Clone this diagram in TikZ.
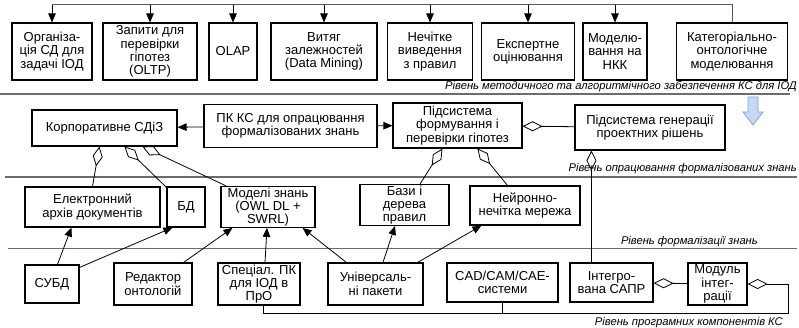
\documentclass[tikz,border=0pt]{standalone}
\usepackage{fontspec}
\setmainfont{Liberation Sans}
\usetikzlibrary{arrows.meta,calc}
\definecolor{hintfill}{HTML}{C6D9F1}
\definecolor{hintline}{HTML}{7FA7D9}
\newcommand{\boxfont}{\fontsize{13}{13.3}\selectfont}
\newcommand{\lvlfont}{\fontsize{11.2}{12}\selectfont\itshape}

\begin{document}
\begin{tikzpicture}[
    x=1pt, y=-1pt,
    box/.style={draw, line width=1.1pt, align=center, inner sep=1pt,
                font=\boxfont},
    arrow/.style={-{Triangle[length=9pt,width=7.5pt]}, line width=0.8pt},
    agg/.style={-{Diamond[open,length=20pt,width=10pt]}, line width=0.8pt},
    level/.style={gray!85!black, line width=1.4pt},
    lvl/.style={font=\lvlfont, inner sep=0pt},
  ]
  \useasboundingbox (0,0) rectangle (799,328);

  % Row 1: methods
  \node[box, minimum width=80pt, minimum height=57pt] at (52,51.5) (org)
    {Організа-\\ція СД для\\задачі ІОД};
  \node[box, minimum width=94pt, minimum height=57pt] at (150,51.5) (oltp)
    {Запити для\\перевірки\\гіпотез\\(OLTP)};
  \node[box, minimum width=48pt, minimum height=57pt] at (233,51.5) (olap)
    {OLAP};
  \node[box, minimum width=106pt, minimum height=57pt] at (324,51.5) (mining)
    {Витяг\\залежностей\\(Data Mining)};
  \node[box, minimum width=85pt, minimum height=57pt] at (430,51.5) (fuzzy)
    {Нечітке\\виведення\\з правил};
  \node[box, minimum width=93pt, minimum height=57pt] at (528,51.5) (expert)
    {Експертне\\оцінювання};
  \node[box, minimum width=64pt, minimum height=57pt] at (615,51.5) (nkk)
    {Моделю-\\вання на\\НКК};
  \node[box, minimum width=111pt, minimum height=57pt] at (732,51.5) (categ)
    {Категоріально-\\онтологічне\\моделювання};
  \coordinate (top) at (0,5);

  % Row 2: processing
  \node[box, minimum width=145pt, minimum height=36pt] at (104.5,128) (corp)
    {Корпоративне СДіЗ};
  \node[box, minimum width=173pt, minimum height=43pt] at (290.5,126) (pkks)
    {ПК КС для опрацювання\\формалізованих знань};
  \node[box, minimum width=129pt, minimum height=45pt] at (457.5,125.5) (hypo)
    {Підсистема\\формування і\\перевірки гіпотез};
  \node[box, minimum width=150pt, minimum height=45pt] at (650,127.5) (gener)
    {Підсистема генерації\\проектних рішень};

  % Row 3: formalization
  \node[box, minimum width=135pt, minimum height=40pt] at (92.5,207) (archive)
    {Електронний\\архів документів};
  \node[box, minimum width=38pt, minimum height=40pt] at (186,207) (db)
    {БД};
  \node[box, minimum width=94pt, minimum height=40pt] at (268,207) (owl)
    {Моделі знань\\(OWL DL +\\SWRL)};
  \node[box, minimum width=89pt, minimum height=39pt] at (404.5,205) (rules)
    {Бази і\\дерева\\правил};
  \node[box, minimum width=110pt, minimum height=39pt] at (525,205.5) (neuro)
    {Нейронно-\\нечітка мережа};

  % Row 4: software components
  \node[box, minimum width=54pt, minimum height=38pt] at (52,284) (dbms)
    {СУБД};
  \node[box, minimum width=78pt, minimum height=42pt] at (153,284) (editor)
    {Редактор\\онтологій};
  \node[box, minimum width=82pt, minimum height=42pt] at (259,284) (spec)
    {Спеціал. ПК\\для ІОД в\\ПрО};
  \node[box, minimum width=95pt, minimum height=42pt] at (375.5,284) (univ)
    {Універсаль-\\ні пакети};
  \node[box, minimum width=111pt, minimum height=39pt] at (502.5,282.5) (cad)
    {CAD/CAM/CAE-\\системи};
  \node[box, minimum width=83pt, minimum height=39pt] at (611.5,282.5) (cadsys)
    {Інтегро-\\вана САПР};
  \node[box, minimum width=59pt, minimum height=42pt] at (717.5,284) (integ)
    {Модуль\\інтег-\\рації};
  \coordinate (bus) at (788,313);

  % Level lines
  \draw[level] (0,94) -- (790,94);
  \draw[level] (5,177) -- (797,177);
  \draw[level, line width=1pt] (8,249) -- (797,249);
  \node[lvl, anchor=base east] at (797,90) (lvlA)
    {Рівень методичного та алгоритмічного забезпечення КС для ІОД};
  \node[lvl, anchor=base east] at (797,172) (lvlB)
    {Рівень опрацювання формалізованих знань};
  \node[lvl, anchor=base east] at (758,244) (lvlC)
    {Рівень формалізації знань};
  \node[lvl, anchor=base east] at (783,325.5) (lvlD)
    {Рівень програмних компонентів КС};

  % Hint arrow
  \draw[hintline, fill=hintfill, line width=0.8pt]
    (748,97) -- (758,97) -- (758,112) -- (763,112) -- (753,125)
    -- (743,112) -- (748,112) -- cycle;

  % Top distribution line
  \draw[gray!70!black, line width=1pt] (org.north |- top) -- (categ.north |- top)
    -- (categ.north);
  \foreach \n in {org, oltp, olap, mining, fuzzy, expert, nkk}
    \draw[arrow] (\n.north |- top) -- (\n.north);

  % Row 2 links
  \draw[arrow] (pkks) -- (corp);
  \draw[arrow] (pkks) -- (hypo);
  \draw[agg] (gener) -- (hypo);
  \draw[agg] (archive.north) -- ($(corp.south west)+(68,0)$);
  \draw[agg] ($(db.north west)+(0,1)$) -- ($(corp.south west)+(93,0)$);
  \draw[agg] ($(owl.north west)+(6,0)$) -- ($(corp.south west)+(111,0)$);
  \draw[agg] ($(rules.north)+(15.5,0)$) -- ($(hypo.south west)+(50,0)$);
  \draw[agg] ($(neuro.north west)+(38,0)$) -- ($(hypo.south west)+(85,0)$);
  \draw[agg] ($(cadsys.north west)+(22,0)$) -- ($(gener.south west)+(17,0)$);

  % Row 4 links
  \draw[arrow] ($(dbms.north west)+(33,0)$) -- ($(archive.south west)+(47,0)$);
  \draw[arrow] ($(dbms.north east)+(0,3)$) -- ($(db.south west)+(6,0)$);
  \draw[arrow] ($(editor.north east)+(-9,0)$) -- ($(owl.south west)+(12,0)$);
  \draw[arrow] ($(spec.north)+(6,0)$) -- ($(owl.south)+(-1,0)$);
  \draw[arrow] ($(univ.north west)+(19,0)$) -- ($(owl.south east)+(-13,0)$);
  \draw[arrow] ($(univ.north)+(7.5,0)$) -- ($(rules.south)+(-9.5,0)$);
  \draw[arrow] ($(univ.north east)+(-6,0)$) -- ($(neuro.south west)+(12,0)$);
  \draw[agg] (integ) -- (cadsys);
  \draw[agg] ($(spec.south)+(4,0)$) |- (bus) |- (integ.east);
  \draw[line width=0.8pt] ($(univ.south)+(-2,0)$) -- ($(univ.south)+(-2,0)$ |- bus);
  \draw[line width=0.8pt] (cad.south) -- (cad.south |- bus);

\end{tikzpicture}
\end{document}
